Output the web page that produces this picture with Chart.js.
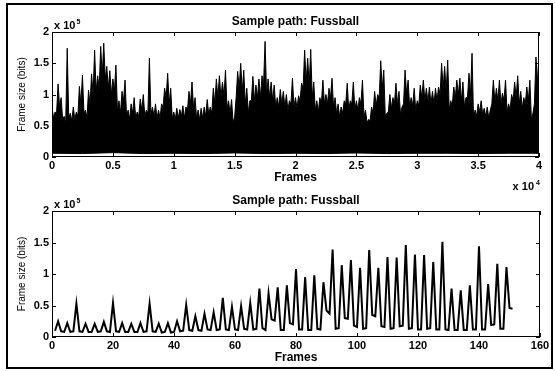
<!DOCTYPE html>
<html lang="en">
<head>
  <meta charset="UTF-8" />
  <title>Sample path: Fussball</title>
  <script src="https://cdn.jsdelivr.net/npm/chart.js"></script>
  <style>
    body { margin: 0; background: #fff; }
    #figure { position: relative; width: 555px; height: 371px; overflow: hidden; }
    #figure canvas { position: absolute; left: 0; top: 0; }
    .frame { position: absolute; left: 6px; top: 3px; width: 547px; height: 366px; border: 2px solid #000; box-sizing: border-box; }
  </style>
</head>
<body>
<div id="figure">
  <canvas id="pathChart" width="555" height="371"></canvas>
  <canvas id="clipChart" width="555" height="371"></canvas>
  <div class="frame"></div>
</div>

<script>
  // upper edge of the 40000-frame trace, one spike top every 250 frames (bits)
  const pathStep = 250;
  const pathPeaks = [
    80000, 72000, 117000, 95000, 65000, 174000, 70000, 80000, 72000, 113000,
    131000, 75000, 107000, 133000, 171000, 130000, 177000, 182000, 145000, 138000,
    125000, 147000, 90000, 105000, 123000, 75000, 85000, 95000, 72000, 93000,
    100000, 75000, 158000, 80000, 85000, 75000, 85000, 110000, 134000, 110000,
    72000, 78000, 76000, 82000, 80000, 105000, 120000, 95000, 75000, 78000,
    80000, 92000, 80000, 110000, 125000, 130000, 120000, 139000, 90000, 92000,
    64000, 137000, 150000, 139000, 110000, 90000, 129000, 115000, 125000, 130000,
    185000, 125000, 120000, 115000, 95000, 108000, 105000, 100000, 90000, 126000,
    95000, 98000, 118000, 171000, 158000, 172000, 120000, 90000, 95000, 123000,
    100000, 110000, 126000, 95000, 85000, 80000, 90000, 118000, 90000, 120000,
    90000, 95000, 123000, 75000, 60000, 80000, 105000, 100000, 154000, 139000,
    70000, 100000, 95000, 118000, 105000, 80000, 139000, 123000, 95000, 110000,
    90000, 115000, 123000, 110000, 112000, 105000, 110000, 112000, 150000, 145000,
    155000, 90000, 112000, 123000, 126000, 120000, 95000, 134000, 166000, 75000,
    85000, 90000, 78000, 80000, 75000, 123000, 110000, 123000, 102000, 123000,
    85000, 100000, 120000, 130000, 105000, 95000, 112000, 123000, 70000, 160000,
    165000
  ];
  // top of the dense band between two spikes, half a step after each spike (bits)
  const pathDips = [
    62000, 70000, 80000, 60000, 55000, 62000, 58000, 60000, 65000, 85000,
    70000, 62000, 85000, 100000, 105000, 110000, 130000, 125000, 110000, 100000,
    105000, 75000, 70000, 90000, 65000, 60000, 70000, 62000, 65000, 75000,
    65000, 70000, 68000, 65000, 62000, 62000, 80000, 95000, 85000, 62000,
    60000, 62000, 65000, 62000, 75000, 85000, 78000, 62000, 60000, 62000,
    65000, 68000, 70000, 85000, 95000, 95000, 98000, 78000, 70000, 55000,
    95000, 110000, 105000, 85000, 70000, 90000, 90000, 95000, 95000, 115000,
    100000, 95000, 90000, 80000, 80000, 85000, 80000, 75000, 85000, 80000,
    78000, 90000, 110000, 120000, 115000, 95000, 75000, 72000, 85000, 85000,
    85000, 95000, 80000, 70000, 65000, 70000, 85000, 75000, 85000, 75000,
    75000, 85000, 65000, 55000, 58000, 70000, 82000, 95000, 110000, 65000,
    72000, 78000, 85000, 85000, 68000, 85000, 100000, 80000, 82000, 75000,
    82000, 95000, 90000, 88000, 85000, 85000, 90000, 100000, 110000, 105000,
    75000, 82000, 95000, 100000, 90000, 80000, 95000, 100000, 62000, 65000,
    72000, 68000, 65000, 62000, 85000, 88000, 90000, 85000, 90000, 72000,
    75000, 90000, 95000, 85000, 78000, 85000, 90000, 60000, 85000, 120000
  ];
  // lower edge of the same trace, every 2500 frames (bits)
  const floorStep = 2500;
  const floorBits = [
    6000, 5500, 7000, 5500, 6000, 5500, 6500, 5500, 6000,
    5500, 6500, 5500, 6000, 6000, 5500, 6000, 6000
  ];

  // first 151 frames of the trace (bits)
  const clipBits = [
    10000, 25000, 9000, 8000, 22000, 8000, 9000, 53000, 9000, 8000,
    21000, 8000, 8000, 21000, 8000, 9000, 24000, 9000, 8000, 54000,
    9000, 8000, 22000, 8000, 8000, 21000, 8000, 8000, 22000, 8000,
    9000, 53000, 9000, 8000, 21000, 7000, 8000, 22000, 7000, 8000,
    25000, 9000, 10000, 51000, 11000, 10000, 33000, 11000, 10000, 37000,
    12000, 11000, 39000, 11000, 12000, 62000, 12000, 11000, 48000, 12000,
    11000, 49000, 13000, 12000, 54000, 12000, 13000, 77000, 14000, 11000,
    69000, 28000, 26000, 79000, 11000, 11000, 82000, 22000, 20000, 108000,
    12000, 12000, 95000, 11000, 11000, 98000, 13000, 12000, 87000, 42000,
    37000, 139000, 13000, 14000, 114000, 30000, 29000, 122000, 18000, 16000,
    110000, 13000, 14000, 138000, 35000, 33000, 110000, 17000, 16000, 127000,
    13000, 14000, 126000, 17000, 18000, 146000, 13000, 14000, 131000, 12000,
    12000, 130000, 13000, 14000, 119000, 12000, 12000, 151000, 12000, 11000,
    77000, 11000, 11000, 74000, 11000, 11000, 82000, 12000, 12000, 144000,
    12000, 12000, 84000, 19000, 20000, 116000, 13000, 13000, 111000, 46000,
    45000
  ];
  const clipFrames = clipBits.map((_, i) => i + 1);

  // tick positions
  const pathTicks = [0, 5000, 10000, 15000, 20000, 25000, 30000, 35000, 40000];
  const clipTicks = [0, 20, 40, 60, 80, 100, 120, 140, 160];
  const bitTicks = [0, 50000, 100000, 150000, 200000];

  // spike tops and dips interleaved into one outline
  const pathOutline = [];
  pathPeaks.forEach((v, i) => {
    pathOutline.push({ x: i * pathStep, y: v });
    if (i < pathDips.length) pathOutline.push({ x: i * pathStep + pathStep / 2, y: pathDips[i] });
  });

  Chart.defaults.font.family = '"Liberation Sans", Arial, Helvetica, sans-serif';
  Chart.defaults.color = '#000';
  Chart.defaults.animation = false;

  const FONT = '"Liberation Sans", Arial, Helvetica, sans-serif';

  // box round the axes, inward ticks on all sides, title and exponent labels
  const boxTicks = {
    id: 'boxTicks',
    afterDraw(chart, args, opts) {
      const { ctx, chartArea: a, scales: { x, y } } = chart;
      ctx.save();
      ctx.strokeStyle = '#000';
      ctx.lineWidth = 1;
      ctx.strokeRect(a.left + 0.5, a.top + 0.5, a.right - a.left - 1, a.bottom - a.top - 1);
      ctx.beginPath();
      x.ticks.forEach(t => {
        const px = Math.round(x.getPixelForValue(t.value)) + 0.5;
        ctx.moveTo(px, a.bottom); ctx.lineTo(px, a.bottom - 4);
        ctx.moveTo(px, a.top); ctx.lineTo(px, a.top + 4);
      });
      y.ticks.forEach(t => {
        const py = Math.round(y.getPixelForValue(t.value)) + 0.5;
        ctx.moveTo(a.left, py); ctx.lineTo(a.left + 4, py);
        ctx.moveTo(a.right, py); ctx.lineTo(a.right - 4, py);
      });
      ctx.stroke();

      ctx.fillStyle = '#000';
      ctx.textAlign = 'center';
      ctx.textBaseline = 'middle';
      ctx.font = 'bold 12px ' + FONT;
      ctx.fillText(opts.title, (a.left + a.right) / 2, a.top - 10.5);

      ctx.textAlign = 'left';
      ctx.textBaseline = 'alphabetic';
      ctx.font = 'bold 11px ' + FONT;
      const w10 = ctx.measureText('x 10').width;
      ctx.fillText('x 10', a.left + 2, a.top - 3);
      ctx.font = 'bold 7px ' + FONT;
      ctx.fillText(String(opts.yExp), a.left + 3 + w10, a.top - 8);
      if (opts.xExp) {
        ctx.font = 'bold 11px ' + FONT;
        ctx.fillText('x 10', a.right - w10 - 5, a.bottom + 33);
        ctx.font = 'bold 7px ' + FONT;
        ctx.fillText(String(opts.xExp), a.right - 3, a.bottom + 28);
      }
      ctx.restore();
    }
  };

  function axes(xMin, xMax, xTicks, xDiv, xHeight, frameTitlePad) {
    return {
      x: {
        type: 'linear', min: xMin, max: xMax,
        afterBuildTicks: s => { s.ticks = xTicks.map(v => ({ value: v })); },
        ticks: { callback: v => String(v / xDiv), font: { size: 11, weight: 'bold' }, padding: 2, maxRotation: 0, autoSkip: false },
        grid: { display: false, drawTicks: false },
        border: { display: false },
        title: { display: true, text: 'Frames', font: { size: 12, weight: 'bold' }, padding: { top: 0, bottom: frameTitlePad } },
        afterFit: s => { s.height = xHeight; }
      },
      y: {
        min: 0, max: 200000,
        afterBuildTicks: s => { s.ticks = bitTicks.map(v => ({ value: v })); },
        ticks: { callback: v => String(v / 1e5), font: { size: 11, weight: 'bold' }, padding: 3 },
        grid: { display: false, drawTicks: false },
        border: { display: false },
        title: { display: true, text: 'Frame size (bits)', font: { size: 10 }, padding: { top: 9, bottom: 0 } },
        afterFit: s => { s.width = 45; }
      }
    };
  }

  new Chart(document.getElementById('pathChart'), {
    type: 'line',
    data: {
      datasets: [
        {
          data: pathOutline,
          borderColor: '#000', backgroundColor: '#000', borderWidth: 1,
          pointRadius: 0, tension: 0, fill: '+1'
        },
        {
          data: floorBits.map((v, i) => ({ x: i * floorStep, y: v })),
          borderColor: '#000', borderWidth: 1,
          pointRadius: 0, tension: 0, fill: false
        }
      ]
    },
    options: {
      responsive: false,
      layout: { padding: { left: 7, right: 16, top: 32, bottom: 184 } },
      plugins: {
        legend: { display: false }, tooltip: { enabled: false },
        boxTicks: { title: 'Sample path: Fussball', yExp: 5, xExp: 4 }
      },
      scales: axes(0, 40000, pathTicks, 1e4, 30, 2)
    },
    plugins: [boxTicks]
  });

  new Chart(document.getElementById('clipChart'), {
    type: 'line',
    data: {
      datasets: [{
        data: clipBits.map((v, i) => ({ x: clipFrames[i], y: v })),
        borderColor: '#000', borderWidth: 2,
        pointRadius: 0, tension: 0, fill: false
      }]
    },
    options: {
      responsive: false,
      layout: { padding: { left: 7, right: 15, top: 211, bottom: 5 } },
      plugins: {
        legend: { display: false }, tooltip: { enabled: false },
        boxTicks: { title: 'Sample path: Fussball', yExp: 5 }
      },
      scales: axes(0, 160, clipTicks, 1, 29, 1)
    },
    plugins: [boxTicks]
  });
</script>
</body>
</html>
